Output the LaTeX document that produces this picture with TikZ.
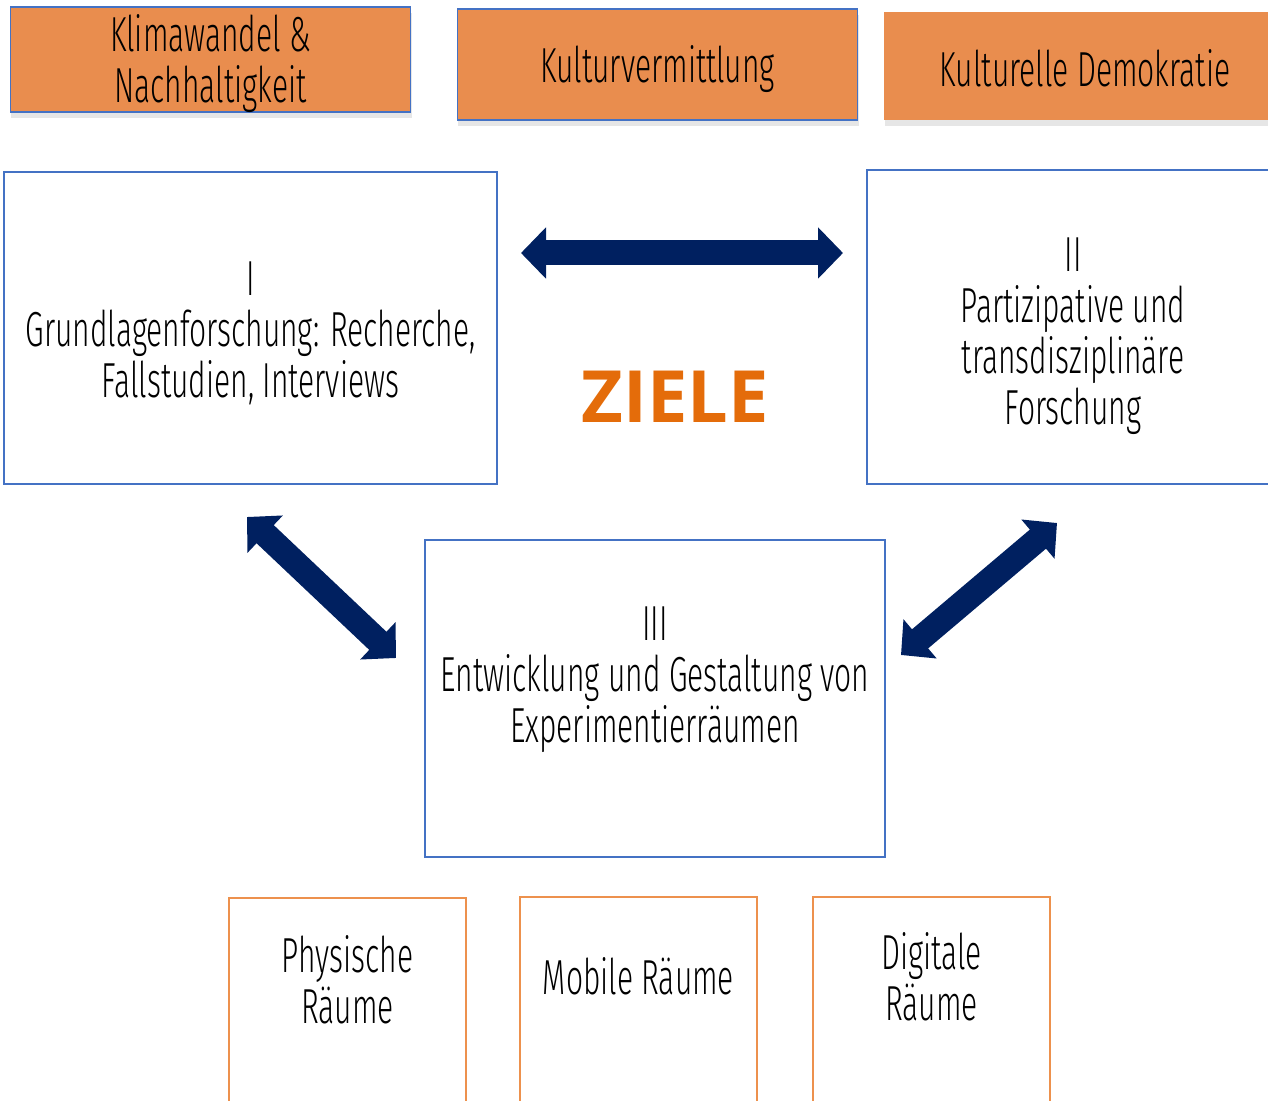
\documentclass[tikz,border=0pt]{standalone}
\usepackage{fontspec}
\IfFontExistsTF{Fira Sans Light}
  {\setmainfont{Fira Sans Light}[FakeStretch=0.61]}
  {\setmainfont{Fira Sans}[FakeStretch=0.61]}
\newfontfamily\zielefont{Open Sans}
\usetikzlibrary{arrows.meta,shadows}
\definecolor{boxorange}{RGB}{233,141,78}
\definecolor{lineorange}{RGB}{237,145,77}
\definecolor{boxblue}{RGB}{68,114,196}
\definecolor{navy}{RGB}{0,32,96}
\definecolor{zielorange}{RGB}{228,108,10}

\begin{document}
\begin{tikzpicture}[x=0.02cm,y=-0.02cm,
        every node/.style={font=\fontsize{28}{29}\selectfont, align=center, inner sep=0pt},
        topbox/.style={fill=boxorange, draw=boxblue, line width=0.6pt,
          drop shadow={shadow xshift=0.02cm, shadow yshift=-0.12cm, opacity=0.2}},
        bluebox/.style={draw=boxblue, line width=1.1pt, fill=white},
        roombox/.style={draw=lineorange, line width=1.1pt, minimum width=4.74cm, minimum height=5cm},
        bigarrow/.style={navy, line width=0.5cm, {Triangle[length=0.5cm,width=1cm]}-{Triangle[length=0.5cm,width=1cm]}}]
  \useasboundingbox (0,0) rectangle (1268,1101);

  \node[topbox, minimum width=8.02cm, minimum height=2.1cm] (klima) at (210.5,59.5) {};
  \node (klimatext) at (210.5,64) {Klimawandel \&\\Nachhaltigkeit};
  \node[topbox, minimum width=8.02cm, minimum height=2.22cm] (kultur) at (657.5,64.5) {};
  \node (kulturtext) at (657.5,69) {Kulturvermittlung};
  \node[topbox, draw=none, minimum width=8.04cm, minimum height=2.16cm] (demo) at (1085,66) {};
  \node (demotext) at (1085,68) {Kulturelle Demokratie};

  \node[bluebox, minimum width=9.86cm, minimum height=6.24cm] (grund) at (250.5,328) {};
  \node (grundtext) at (250.5,333) {I\\Grundlagenforschung: Recherche,\\Fallstudien, Interviews};
  \node[bluebox, minimum width=8.24cm, minimum height=6.28cm] (partizip) at (1073,327) {};
  \node (partiziptext) at (1073,336) {II\\Partizipative und\\transdisziplinäre\\Forschung};
  \node[bluebox, minimum width=9.2cm, minimum height=6.34cm] (entw) at (655,698.5) {};
  \node (entwtext) at (655,680) {III\\Entwicklung und Gestaltung von\\Experimentierräumen};

  \node[font=\zielefont\fontsize{41}{41}\selectfont\bfseries, text=zielorange] (ziele) at (675,397) {ZIELE};

  \node[roombox] (phys) at (347.5,1023) {};
  \node (physte) at (347.5,980) {Physische\\Räume};
  \node[roombox] (mobil) at (638.5,1022) {};
  \node (mobilte) at (638.5,976) {Mobile Räume};
  \node[roombox] (digital) at (931.5,1022) {};
  \node (digitalte) at (931.5,977) {Digitale\\Räume};

  \coordinate (h1) at (521,253);
  \coordinate (h2) at (843,253);
  \coordinate (l1) at (247,517);
  \coordinate (l2) at (396,658);
  \coordinate (r1) at (1057,523);
  \coordinate (r2) at (901,655);
  \draw[bigarrow] (h1) -- (h2);
  \draw[bigarrow] (l1) -- (l2);
  \draw[bigarrow] (r1) -- (r2);
\end{tikzpicture}
\end{document}
